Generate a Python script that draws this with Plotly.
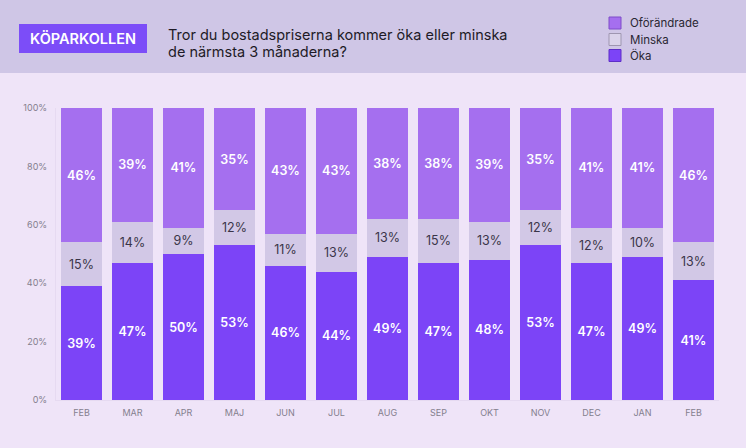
import plotly.graph_objects as go

months = ["FEB", "MAR", "APR", "MAJ", "JUN", "JUL", "AUG", "SEP", "OKT", "NOV", "DEC", "JAN", "FEB"]
oka = [39, 47, 50, 53, 46, 44, 49, 47, 48, 53, 47, 49, 41]
minska = [15, 14, 9, 12, 11, 13, 13, 15, 13, 12, 12, 10, 13]
oforandrade = [46, 39, 41, 35, 43, 43, 38, 38, 39, 35, 41, 41, 46]
ytick_vals = [0, 20, 40, 60, 80, 100]
ytick_text = ["0%", "20%", "40%", "60%", "80%", "100%"]

series_names = ["Öka", "Minska", "Oförändrade"]
colors = ["#7C44F7", "#D2C8E6", "#A56FEF"]
legend_fills = ["#7C44F7", "#DAD3EA", "#A56FEF"]
legend_borders = ["#5E2FC7", "#9E96B0", "#7F4CC9"]
label_colors = ["white", "#3a3548", "white"]

x = list(range(len(months)))
FONT = "Inter, Roboto, sans-serif"

# plot area in pixels
L, R, T, B = 56, 719, 108, 400


def px(xpix):
    return (xpix - L) / (R - L)


def py(ypix):
    return (B - ypix) / (B - T)


fig = go.Figure()
for vals, name, col, lcol in zip([oka, minska, oforandrade], series_names, colors, label_colors):
    bold = 600 if lcol == "white" else 400
    fig.add_trace(go.Bar(
        x=x, y=vals, name=name, marker=dict(color=col, line=dict(width=0)),
        text=[f"{v}%" for v in vals], textposition="inside", insidetextanchor="middle",
        textfont=dict(color=lcol, size=12.5, family=FONT, weight=bold), textangle=0,
        showlegend=False, hoverinfo="skip"))

shapes = [
    dict(type="rect", xref="paper", yref="paper",
         x0=-0.2, x1=1.2, y0=py(73), y1=py(-20),
         fillcolor="#CFC6E6", line=dict(width=0), layer="below"),
    dict(type="rect", xref="paper", yref="paper",
         x0=px(19), x1=px(147), y0=py(53), y1=py(24),
         fillcolor="#7C4DF8", line=dict(width=0)),
]
annotations = [
    dict(text="KÖPARKOLLEN", xref="paper", yref="paper",
         x=px(83), y=py(38.5), xanchor="center", yanchor="middle",
         showarrow=False, font=dict(size=14.5, color="white", family=FONT, weight=600)),
    dict(text="Tror du bostadspriserna kommer öka eller minska",
         xref="paper", yref="paper", x=px(166), y=py(34),
         xanchor="left", yanchor="middle", align="left", showarrow=False,
         font=dict(size=14.5, color="#1e1b26", family=FONT)),
    dict(text="de närmsta 3 månaderna?",
         xref="paper", yref="paper", x=px(166), y=py(52),
         xanchor="left", yanchor="middle", align="left", showarrow=False,
         font=dict(size=14.5, color="#1e1b26", family=FONT)),
]

# legend (top to bottom: Oförändrade, Minska, Öka)
leg_y = [23, 39.5, 55.5]
for i, idx in enumerate([2, 1, 0]):
    cy = leg_y[i]
    shapes.append(dict(type="rect", xref="paper", yref="paper",
                       x0=px(609), x1=px(621), y0=py(cy + 6), y1=py(cy - 6),
                       fillcolor=legend_fills[idx], line=dict(width=1, color=legend_borders[idx])))
    annotations.append(dict(text=series_names[idx], xref="paper", yref="paper",
                            x=px(628), y=py(cy), xanchor="left", yanchor="middle",
                            showarrow=False,
                            font=dict(size=11.5, color="#2a2733", family=FONT)))

fig.update_layout(
    width=746, height=448,
    barmode="stack", bargap=0.2,
    paper_bgcolor="#EFE4F8", plot_bgcolor="#EFE4F8",
    margin=dict(l=L, r=746 - R, t=T, b=448 - B, autoexpand=False),
    font=dict(family=FONT),
    showlegend=False,
    xaxis=dict(
        tickmode="array", tickvals=x, ticktext=months,
        range=[-0.5, len(months) - 0.5],
        showgrid=False, zeroline=False, showline=True, linecolor="#E6DAF1",
        tickfont=dict(size=9, color="#847f8e", family=FONT), ticks="",
        ticklabelstandoff=4,
    ),
    yaxis=dict(
        range=[0, 100], tickmode="array", tickvals=ytick_vals, ticktext=ytick_text,
        showgrid=False, zeroline=False, showline=True, linecolor="#E6DAF1",
        tickfont=dict(size=9, color="#847f8e", family=FONT), ticks="",
        ticklabelstandoff=6,
    ),
    shapes=shapes,
    annotations=annotations,
)

fig.write_html(
    "out.html",
    config={"displayModeBar": False},
    post_script="document.body.style.margin='0';document.body.style.background='#EFE4F8';",
)
